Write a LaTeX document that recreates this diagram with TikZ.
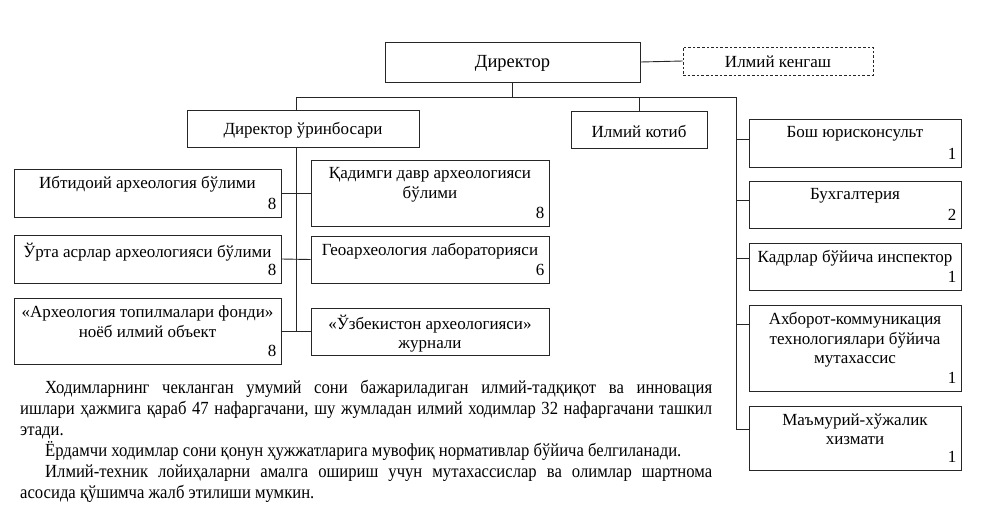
\documentclass[tikz,border=0pt]{standalone}
\usepackage{fontspec}
\setmainfont{Liberation Serif}
\newfontfamily\parafont[FakeStretch=0.9]{Liberation Serif}
\usetikzlibrary{fit,calc}
\newcommand\orgbox[7]{%
  \node[box, fit={(#2,#3) (#4,#5)}] (#1) {};
  \node[lbl, anchor=north] (#1t) at ([yshift=-7pt]#1.north) {#6};
  \node[num] (#1n) at (#1.south east) {#7};}
\newcommand\cenbox[6]{%
  \node[box, fit={(#2,#3) (#4,#5)}] (#1) {};
  \node[lbl, yshift=-1.5pt] (#1t) at (#1.center) {#6};}
\begin{document}
\begin{tikzpicture}[x=1pt,y=-1pt,
  box/.style={draw=black!85, line width=0.9pt, inner sep=0pt},
  lbl/.style={font=\fontsize{17}{19.5}\selectfont, align=center, inner sep=1pt},
  num/.style={font=\fontsize{17}{19.5}\selectfont, inner sep=1pt, anchor=south east, xshift=-4pt, yshift=7pt},
  conn/.style={draw=black!85, line width=0.9pt}]
\useasboundingbox (0,0) rectangle (986,528);
% top level
\node[box, fit={(385,42) (640,82)}] (dir) {};
\node[lbl, font=\fontsize{18.5}{21}\selectfont, yshift=-1.5pt] (dirt) at (dir.center) {Директор};
\node[box, dash pattern=on 2.6pt off 2pt, fit={(683,47) (873,75)}] (ken) {};
\node[lbl, yshift=-1pt] (kent) at (ken.center) {Илмий кенгаш};
\cenbox{dep}{187}{110}{419}{147}{Директор ўринбосари}
\cenbox{kot}{571}{111}{707}{148}{Илмий котиб}
% left column
\orgbox{lb1}{14}{169}{281}{217}{Ибтидоий археология бўлими}{8}
\orgbox{lb2}{14}{235}{281}{283}{Ўрта асрлар археологияси бўлими}{8}
\orgbox{lb3}{14}{298}{281}{364}{«Археология топилмалари фонди»\\ноёб илмий объект}{8}
% centre column
\orgbox{rb1}{311}{160}{549}{226}{Қадимги давр археологияси\\бўлими}{8}
\orgbox{rb2}{311}{236}{549}{283}{Геоархеология лабораторияси}{6}
\node[box, fit={(311,308) (549,355)}] (rb3) {};
\node[lbl, anchor=north] (rb3t) at ([yshift=-6pt]rb3.north) {«Ўзбекистон археологияси»\\журнали};
% right column
\orgbox{sb1}{749}{119}{961}{167}{Бош юрисконсульт}{1}
\orgbox{sb2}{749}{181}{961}{228}{Бухгалтерия}{2}
\orgbox{sb3}{749}{243}{961}{290}{Кадрлар бўйича инспектор}{1}
\orgbox{sb4}{749}{305}{961}{391}{Ахборот-коммуникация\\технологиялари бўйича\\мутахассис}{1}
\orgbox{sb5}{749}{406}{961}{470}{Маъмурий-хўжалик\\хизмати}{1}
% connectors
\coordinate (tk) at (296,97);
\coordinate (br) at (736,97);
\draw[conn] (dir.east) -- (ken.west);
\draw[conn] (dir.south) -- (dir.south |- tk);
\draw[conn] (tk) -- (br);
\draw[conn] (kot.north) -- (kot.north |- tk);
\draw[conn] (tk) -- (tk |- dep.north);
\draw[conn] (tk |- dep.south) -- (tk |- lb3.east);
\draw[conn] (lb1.east) -- (rb1.west);
\draw[conn] (lb2.east) -- (rb2.west);
\draw[conn] (lb3.east) -- (lb3.east -| rb3.west);
\foreach \b/\d in {sb1/21,sb2/20,sb3/16,sb4/20,sb5/24}{
  \coordinate (\b c) at ([yshift=-\d pt]\b.north west);
  \draw[conn] (br |- \b c) -- (\b c);
}
\draw[conn] (br) -- (br |- sb5c);
% paragraph
\node[anchor=base west, inner sep=0pt, font=\parafont\fontsize{18.5}{21}\selectfont] (para) at (20,393) {\parbox[t]{692pt}{\setlength\parindent{25pt}%
Ходимларнинг чекланган умумий сони бажариладиган илмий-тадқиқот ва инновация\linebreak
ишлари ҳажмига қараб 47 нафаргачани, шу жумладан илмий ходимлар 32 нафаргачани ташкил\linebreak
этади.\par
Ёрдамчи ходимлар сони қонун ҳужжатларига мувофиқ нормативлар бўйича белгиланади.\par
Илмий-техник лойиҳаларни амалга ошириш учун мутахассислар ва олимлар шартнома\linebreak
асосида қўшимча жалб этилиши мумкин.}};
\end{tikzpicture}
\end{document}
